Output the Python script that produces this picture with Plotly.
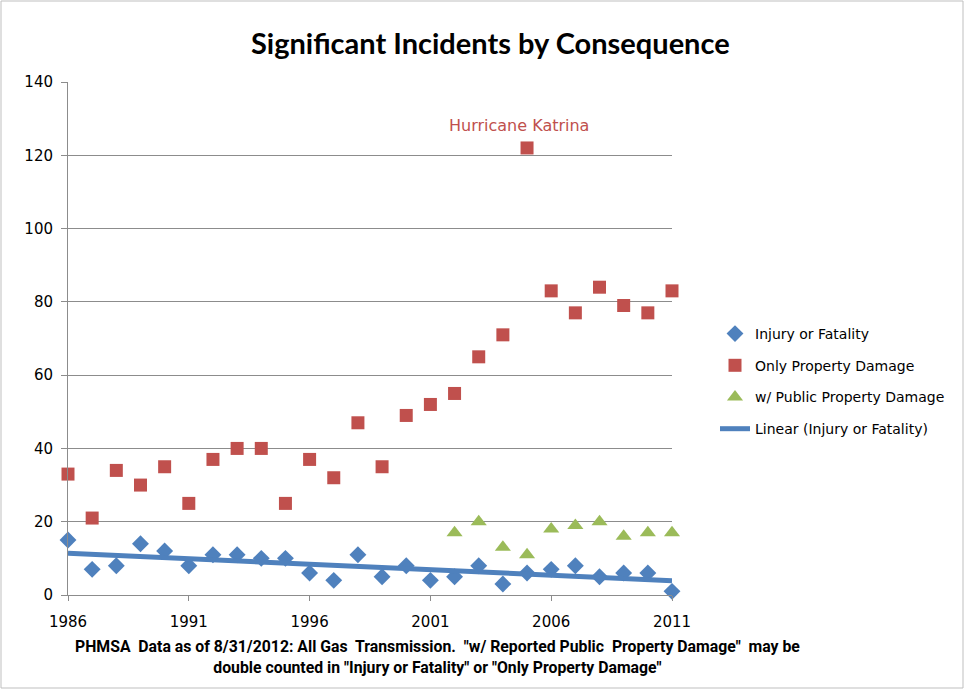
import numpy as np
import plotly.graph_objects as go

years = list(range(1986, 2012))
injury_fatality = [15, 7, 8, 14, 12, 8, 11, 11, 10, 10, 6, 4, 11, 5, 8, 4, 5, 8, 3, 6, 7, 8, 5, 6, 6, 1]
only_property = [33, 21, 34, 30, 35, 25, 37, 40, 40, 25, 37, 32, 47, 35, 49, 52, 55, 65, 71, 122, 83, 77, 84, 79, 77, 83]
public_years = list(range(2002, 2012))
public_property = [17, 20, 13, 11, 18, 19, 20, 16, 17, 17]
x_ticks = [1986, 1991, 1996, 2001, 2006, 2011]
y_ticks = [0, 20, 40, 60, 80, 100, 120, 140]

BLUE = "#4f81bd"
RED = "#c0504d"
GREEN = "#9bbb59"
GRID = "#8c8c8c"
FONT = "DejaVu Sans"
TITLE_FONT = "Lato"

L, R, T, B = 68, 297, 82, 98
PW, PH = 969 - L - R, 693 - T - B

slope, intercept = np.polyfit(years, injury_fatality, 1)
trend = [slope * y + intercept for y in years]

fig = go.Figure()
fig.add_trace(go.Scatter(x=years, y=injury_fatality, mode="markers", name="Injury or Fatality",
                         marker=dict(symbol="diamond", size=13, color=BLUE), cliponaxis=False,
                         legendgroup="a"))
fig.add_trace(go.Scatter(x=years, y=only_property, mode="markers", name="Only Property Damage",
                         marker=dict(symbol="square", size=13, color=RED), cliponaxis=False,
                         legendgroup="b"))
fig.add_trace(go.Scatter(x=public_years, y=public_property, mode="markers", name="w/ Public Property Damage",
                         marker=dict(symbol="triangle-up", size=14, color=GREEN), cliponaxis=False,
                         legendgroup="c"))
fig.add_trace(go.Scatter(x=years, y=trend, mode="lines", name="Linear (Injury or Fatality)",
                         line=dict(color=BLUE, width=5), cliponaxis=False, legendgroup="d"))

fig.update_layout(
    width=969, height=693,
    margin=dict(l=L, r=R, t=T, b=B),
    paper_bgcolor="white", plot_bgcolor="white",
    font=dict(family=FONT, size=13, color="#000000"),
    title=dict(text="<b>Significant Incidents by Consequence</b>", x=0.506, xanchor="center",
               y=1 - 44 / 693, yanchor="middle", font=dict(family=TITLE_FONT, size=29, color="#000000")),
    showlegend=True,
    legend=dict(x=(715 - L) / PW, y=(595 - 318) / PH, xanchor="left", yanchor="top", tracegroupgap=10.5,
                font=dict(family=FONT, size=14, color="#000000"), bgcolor="rgba(0,0,0,0)"),
    xaxis=dict(range=[1986, 2011], tickvals=x_ticks, ticktext=[str(t) for t in x_ticks],
               showgrid=False, zeroline=False, showline=True, linecolor=GRID, linewidth=1,
               ticks="outside", ticklen=5, tickcolor=GRID, ticklabelstandoff=8,
               tickfont=dict(family=FONT, size=15, color="#000000")),
    yaxis=dict(range=[0, 140], tickvals=y_ticks, showgrid=True, gridcolor=GRID, gridwidth=1,
               zeroline=False, showline=True, linecolor=GRID, linewidth=1,
               ticks="outside", ticklen=6, tickcolor=GRID, ticklabelstandoff=5,
               tickfont=dict(family=FONT, size=15, color="#000000")),
    annotations=[
        dict(x=2005, y=122, xref="x", yref="y", text="Hurricane Katrina", showarrow=False,
             yshift=22, xshift=-8, font=dict(family=FONT, size=16, color=RED)),
        dict(x=(437 - L) / PW, y=(595 - 657) / PH, xref="paper", yref="paper",
             text="<b>PHMSA  Data as of 8/31/2012: All Gas  Transmission.  \"w/ Reported Public  Property Damage\"  may be</b><br>"
                  "<b>double counted in \"Injury or Fatality\" or \"Only Property Damage\"</b>",
             showarrow=False, align="center", xanchor="center", yanchor="middle",
             font=dict(family="Liberation Sans Narrow, Arial Narrow, Roboto", size=15.8, color="#000000")),
    ],
    shapes=[dict(type="rect", xref="paper", yref="paper",
                 x0=(1 - L) / PW, x1=(963 - L) / PW, y0=(595 - 688) / PH, y1=(595 - 1) / PH,
                 line=dict(color="#bfbfbf", width=1))],
)

fig.write_html("out.html")
